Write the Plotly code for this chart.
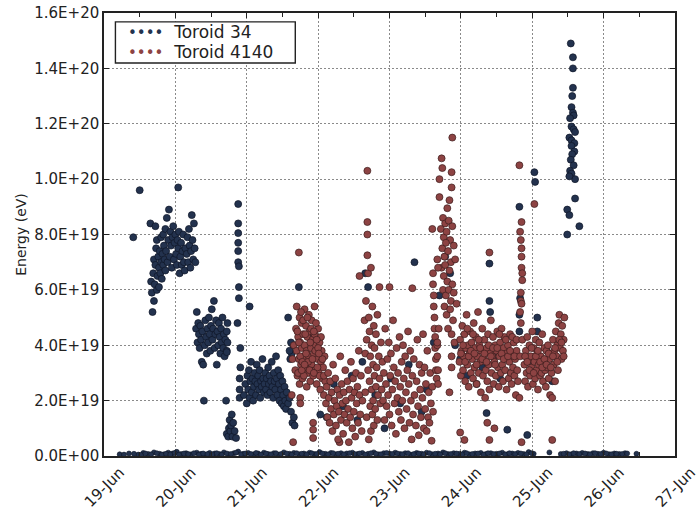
import pandas as pd
import plotly.graph_objects as go

START = pd.Timestamp("2012-06-19")

# Readings as (days after 19-Jun 00:00, energy in units of 1e19 eV)

# ---- Toroid 34 ----
T34_EARLY = [
    (0.41, 7.9), (0.50, 9.6), (1.04, 9.7),
    (0.65, 8.4), (0.66, 6.3), (0.67, 5.9), (0.68, 5.2), (0.69, 6.6), (0.70, 7.1), (0.70, 5.6),
    (0.71, 6.2), (0.72, 8.3), (0.72, 6.9), (0.73, 7.5), (0.74, 6.0), (0.74, 7.8), (0.75, 6.5),
    (0.76, 7.2), (0.77, 6.8), (0.77, 6.1), (0.78, 7.4), (0.79, 6.6), (0.80, 7.0), (0.80, 7.9),
    (0.81, 6.4), (0.82, 7.3), (0.83, 8.0), (0.83, 6.9), (0.84, 7.6), (0.85, 7.1), (0.86, 8.2),
    (0.86, 6.7), (0.87, 7.4), (0.88, 8.6), (0.89, 7.0), (0.90, 7.8), (0.91, 8.9), (0.92, 7.2),
    (0.93, 8.1), (0.94, 7.6), (0.95, 6.8), (0.96, 7.9), (0.97, 8.3), (0.98, 7.1), (0.99, 7.7),
    (1.00, 8.0), (1.01, 7.3), (1.02, 6.9), (1.03, 7.8), (1.04, 7.5), (1.05, 8.1), (1.06, 6.6),
    (1.07, 7.2), (1.08, 7.7), (1.09, 6.9), (1.10, 7.4), (1.11, 8.0), (1.12, 7.0), (1.13, 6.7),
    (1.14, 7.5), (1.16, 7.3), (1.17, 7.9), (1.18, 7.0), (1.19, 8.2), (1.20, 7.6), (1.21, 6.8),
    (1.22, 7.4), (1.23, 8.7), (1.24, 7.8), (1.25, 7.1), (1.26, 8.4), (1.27, 7.5), (1.28, 7.0),
]
T34_20JUN = [
    (1.29, 4.6), (1.30, 5.2), (1.31, 4.1), (1.32, 4.8), (1.33, 4.4), (1.34, 3.9), (1.35, 4.7),
    (1.36, 4.2), (1.37, 3.4), (1.38, 4.5), (1.39, 3.3), (1.40, 2.0), (1.41, 4.0), (1.42, 4.9),
    (1.43, 4.3), (1.44, 3.7), (1.45, 4.6), (1.46, 4.1), (1.47, 5.0), (1.48, 4.4), (1.49, 3.8),
    (1.50, 4.7), (1.51, 5.3), (1.52, 4.2), (1.53, 4.6), (1.54, 5.6), (1.55, 3.9), (1.56, 4.4),
    (1.57, 4.9), (1.58, 3.3), (1.59, 4.5), (1.60, 4.0), (1.61, 4.8), (1.62, 4.3), (1.63, 3.7),
    (1.64, 4.6), (1.65, 4.1), (1.66, 5.0), (1.67, 3.9), (1.68, 4.4), (1.69, 3.6), (1.70, 4.2),
    (1.71, 2.0), (1.72, 3.8), (1.73, 4.1),
    (1.72, 0.8), (1.74, 0.7), (1.75, 1.0), (1.76, 1.3), (1.77, 0.9), (1.78, 1.1), (1.79, 1.5),
    (1.80, 0.7), (1.81, 1.2), (1.83, 0.9), (1.85, 0.65),
    (1.88, 9.1), (1.88, 8.4), (1.88, 8.05), (1.88, 7.7), (1.88, 7.4), (1.88, 7.0), (1.89, 6.85),
    (1.89, 6.1), (1.89, 5.7), (1.87, 4.8), (1.91, 3.9), (1.91, 3.2), (1.90, 2.8), (1.90, 2.4),
    (1.90, 2.1), (1.72, 4.5), (1.72, 3.75), (1.73, 4.8), (2.04, 5.4),
]
T34_21JUN = [
    (1.96, 2.2), (1.98, 2.6), (2.00, 1.9), (2.01, 2.9), (2.02, 2.4), (2.03, 3.1), (2.04, 2.1),
    (2.05, 2.7), (2.06, 3.4), (2.07, 2.3), (2.08, 2.8), (2.09, 2.0), (2.10, 2.5), (2.11, 3.0),
    (2.12, 2.7), (2.13, 2.2), (2.14, 3.3), (2.15, 2.6), (2.16, 2.9), (2.17, 2.4), (2.18, 3.1),
    (2.19, 2.1), (2.20, 2.7), (2.21, 2.5), (2.22, 3.5), (2.23, 2.8), (2.24, 2.3), (2.25, 2.6),
    (2.26, 3.0), (2.27, 2.4), (2.28, 2.8), (2.29, 2.2), (2.30, 3.2), (2.31, 2.6), (2.32, 2.9),
    (2.33, 2.3), (2.34, 2.7), (2.35, 3.4), (2.36, 2.5), (2.37, 2.1), (2.38, 3.0), (2.39, 2.7),
    (2.40, 2.4), (2.41, 3.6), (2.42, 2.8), (2.43, 2.2), (2.44, 3.1), (2.45, 2.6), (2.46, 2.0),
    (2.47, 2.9), (2.48, 2.4), (2.49, 1.9), (2.50, 2.7), (2.51, 2.2), (2.52, 1.8), (2.53, 2.5),
    (2.54, 2.0), (2.55, 1.7), (2.56, 2.3), (2.58, 1.9), (2.60, 2.1), (2.62, 1.6), (2.58, 5.0),
    (2.63, 3.7), (2.65, 4.0), (2.64, 1.2), (2.67, 1.1), (2.66, 1.4), (2.73, 6.1), (2.62, 4.1),
    (2.60, 3.8), (2.61, 3.5),
]
T34_LATER = [
    (2.92, 3.1), (2.88, 4.4), (3.03, 1.5), (3.12, 1.4), (3.22, 2.6), (3.35, 1.8), (3.47, 2.9),
    (3.55, 1.3), (3.62, 3.4), (3.70, 6.1), (3.66, 6.6), (3.80, 2.2), (3.93, 1.0), (4.02, 2.8),
    (4.15, 1.9), (4.27, 3.3), (4.35, 7.0), (4.45, 1.6), (4.52, 2.4), (4.62, 4.1), (4.70, 5.8),
    (4.78, 7.2), (4.85, 6.6), (4.92, 4.0), (4.99, 3.5), (5.08, 2.9), (5.15, 3.8), (5.22, 2.6),
    (5.30, 3.2), (5.36, 1.55), (5.40, 6.95), (5.40, 5.6), (5.41, 5.2), (5.48, 3.6), (5.55, 2.8),
    (5.62, 4.2), (5.70, 3.0), (5.82, 9.0), (5.83, 5.7), (5.82, 5.1), (5.82, 4.5), (5.93, 0.76),
    (5.65, 0.95), (6.07, 5.0), (6.07, 4.5), (6.00, 3.4), (6.12, 3.0), (6.20, 3.9), (6.28, 2.7),
    (6.35, 3.5), (6.03, 10.25), (6.04, 9.9),
]
T34_25JUN = [
    (6.54, 14.9), (6.57, 14.4), (6.57, 14.0), (6.57, 13.3), (6.56, 13.0), (6.55, 12.6),
    (6.57, 12.4), (6.58, 12.3), (6.53, 12.2), (6.55, 11.9), (6.58, 11.8), (6.60, 11.7),
    (6.52, 11.5), (6.55, 11.4), (6.59, 11.3), (6.55, 11.2), (6.59, 11.0), (6.56, 10.9),
    (6.54, 10.7), (6.58, 10.5), (6.53, 10.3), (6.55, 10.2), (6.60, 10.0), (6.52, 10.1),
    (6.60, 9.3), (6.49, 8.9), (6.52, 8.7), (6.66, 8.3), (6.49, 8.0),
]
# Near-zero Toroid 34 readings along the whole run
T34_BASELINE = [
    (0.22, 0.06), (0.35, 0.09), (0.48, 0.05), (0.55, 0.11), (0.62, 0.07), (0.70, 0.13),
    (0.78, 0.08), (0.84, 0.06), (0.90, 0.12), (0.96, 0.09), (1.02, 0.15), (1.08, 0.07),
    (1.15, 0.10), (1.22, 0.06), (1.30, 0.12), (1.36, 0.08), (1.42, 0.05), (1.48, 0.11),
    (1.55, 0.09), (1.62, 0.07), (1.68, 0.13), (1.75, 0.06), (1.82, 0.10), (1.88, 0.16),
    (1.95, 0.08), (2.02, 0.11), (2.10, 0.06), (2.16, 0.09), (2.24, 0.12), (2.30, 0.07),
    (2.38, 0.10), (2.45, 0.05), (2.52, 0.13), (2.60, 0.08), (2.66, 0.11), (2.74, 0.06),
    (2.80, 0.09), (2.88, 0.12), (2.95, 0.07), (3.02, 0.14), (3.10, 0.08), (3.18, 0.11),
    (3.25, 0.06), (3.32, 0.10), (3.40, 0.09), (3.48, 0.12), (3.55, 0.07), (3.62, 0.11),
    (3.70, 0.08), (3.78, 0.13), (3.85, 0.06), (3.92, 0.10), (4.00, 0.09), (4.08, 0.12),
    (4.15, 0.07), (4.22, 0.10), (4.30, 0.05), (4.38, 0.11), (4.45, 0.08), (4.52, 0.12),
    (4.60, 0.06), (4.68, 0.09), (4.75, 0.13), (4.82, 0.07), (4.90, 0.10), (4.98, 0.08),
    (5.05, 0.12), (5.12, 0.06), (5.20, 0.09), (5.28, 0.11), (5.35, 0.07), (5.42, 0.10),
    (5.50, 0.08), (5.58, 0.12), (5.65, 0.06), (5.72, 0.09), (5.80, 0.11), (5.88, 0.07),
    (5.95, 0.14), (6.02, 0.08), (6.24, 0.13), (6.40, 0.07), (6.48, 0.10), (6.55, 0.06),
    (6.62, 0.09), (6.70, 0.11), (6.78, 0.07), (6.85, 0.10), (6.92, 0.08), (7.00, 0.12),
    (7.08, 0.06), (7.15, 0.09), (7.22, 0.07), (7.30, 0.10), (7.46, 0.08),
    (0.28, 0.05), (0.42, 0.08), (0.52, 0.04), (0.58, 0.09), (0.66, 0.06), (0.74, 0.10),
    (0.81, 0.05), (0.87, 0.08), (0.93, 0.06), (0.99, 0.11), (1.05, 0.05), (1.12, 0.09),
    (1.18, 0.07), (1.26, 0.10), (1.33, 0.05), (1.39, 0.09), (1.45, 0.07), (1.52, 0.06),
    (1.58, 0.10), (1.65, 0.05), (1.72, 0.09), (1.78, 0.07), (1.85, 0.12), (1.92, 0.06),
    (1.98, 0.09), (2.06, 0.07), (2.13, 0.11), (2.20, 0.05), (2.27, 0.09), (2.34, 0.06),
    (2.41, 0.10), (2.48, 0.07), (2.56, 0.09), (2.63, 0.05), (2.70, 0.10), (2.77, 0.08),
    (2.84, 0.06), (2.91, 0.10), (2.98, 0.07), (3.06, 0.09), (3.14, 0.06), (3.21, 0.10),
    (3.28, 0.08), (3.36, 0.06), (3.44, 0.10), (3.51, 0.07), (3.58, 0.09), (3.66, 0.05),
    (3.74, 0.10), (3.81, 0.08), (3.88, 0.06), (3.96, 0.11), (4.04, 0.07), (4.11, 0.09),
    (4.18, 0.06), (4.26, 0.10), (4.34, 0.07), (4.41, 0.09), (4.48, 0.06), (4.56, 0.10),
    (4.64, 0.08), (4.71, 0.06), (4.78, 0.10), (4.86, 0.07), (4.94, 0.09), (5.02, 0.06),
    (5.08, 0.10), (5.16, 0.07), (5.24, 0.09), (5.32, 0.05), (5.38, 0.10), (5.46, 0.07),
    (5.54, 0.09), (5.62, 0.06), (5.68, 0.10), (5.76, 0.07), (5.84, 0.09), (5.92, 0.06),
    (5.99, 0.10), (6.44, 0.08), (6.52, 0.06), (6.58, 0.10), (6.66, 0.07), (6.74, 0.09),
    (6.81, 0.06), (6.88, 0.10), (6.96, 0.07), (7.04, 0.09), (7.11, 0.06), (7.18, 0.08),
    (7.26, 0.07), (7.33, 0.09),
]

# ---- Toroid 4140 ----
T4140_22JUN = [
    (2.63, 2.2), (2.64, 3.5), (2.66, 4.0), (2.68, 3.1), (2.69, 4.6), (2.70, 5.4), (2.70, 3.8),
    (2.71, 2.9), (2.72, 4.3), (2.73, 3.5), (2.74, 5.0), (2.74, 2.6), (2.75, 4.1), (2.76, 3.3),
    (2.77, 4.8), (2.77, 3.9), (2.78, 2.8), (2.79, 4.4), (2.80, 3.6), (2.81, 5.3), (2.81, 4.0),
    (2.82, 3.2), (2.83, 4.7), (2.84, 2.5), (2.84, 3.8), (2.85, 4.3), (2.86, 3.0), (2.87, 5.1),
    (2.87, 3.6), (2.88, 4.5), (2.89, 2.7), (2.90, 3.9), (2.91, 4.9), (2.91, 3.3), (2.92, 4.2),
    (2.93, 2.9), (2.94, 3.7), (2.95, 5.4), (2.95, 4.4), (2.96, 3.1), (2.97, 4.0), (2.98, 2.6),
    (2.99, 3.5), (3.00, 4.6), (3.01, 3.0), (3.02, 4.1), (3.03, 2.4), (3.04, 3.4), (3.05, 3.8),
    (3.06, 2.8), (3.07, 3.2), (3.08, 2.2), (3.09, 3.6), (3.10, 2.7),
    (2.71, 4.5), (2.72, 3.0), (2.73, 4.1), (2.75, 3.6), (2.76, 5.2), (2.78, 3.4), (2.79, 4.9),
    (2.80, 2.9), (2.82, 4.4), (2.83, 3.7), (2.85, 5.0), (2.86, 3.4), (2.88, 3.1), (2.89, 4.1),
    (2.90, 4.6), (2.92, 3.5), (2.94, 4.5), (2.96, 3.8), (2.97, 4.8), (2.99, 3.2), (3.00, 3.9),
    (3.02, 2.9), (3.04, 4.3), (3.06, 3.5), (3.08, 2.9), (2.77, 3.1), (2.81, 3.3), (2.94, 3.0),
    (2.98, 4.2), (3.01, 3.7),
    (2.73, 7.35), (2.65, 0.5), (2.93, 1.2), (2.93, 0.95), (2.93, 0.65), (2.75, 2.1), (2.75, 1.9),
    (3.30, 0.5),
]
T4140_22JUN_LATE = [
    (3.11, 1.9), (3.12, 2.5), (3.13, 1.4), (3.14, 3.0), (3.15, 2.1), (3.16, 1.2), (3.17, 2.7),
    (3.18, 1.7), (3.19, 2.3), (3.20, 0.9), (3.21, 3.3), (3.22, 1.5), (3.23, 2.0), (3.24, 2.8),
    (3.25, 1.1), (3.26, 1.8), (3.27, 2.4), (3.28, 0.6), (3.29, 1.6), (3.30, 2.2), (3.31, 3.6),
    (3.32, 1.3), (3.33, 2.6), (3.34, 1.9), (3.35, 0.8), (3.36, 2.3), (3.37, 1.5), (3.38, 3.1),
    (3.39, 2.0), (3.40, 1.2), (3.41, 2.7), (3.42, 1.7), (3.43, 0.5), (3.44, 2.4), (3.45, 1.4),
    (3.46, 3.4), (3.47, 2.1), (3.48, 1.0), (3.49, 2.8), (3.50, 1.6), (3.51, 2.3), (3.52, 0.7),
    (3.53, 3.0), (3.54, 1.9), (3.55, 2.5), (3.56, 1.2), (3.57, 3.8), (3.58, 2.2), (3.59, 1.5),
    (3.60, 2.9), (3.61, 0.9), (3.62, 2.0),
    (3.65, 4.9), (3.66, 3.7), (3.66, 2.3), (3.67, 5.6), (3.68, 1.4), (3.68, 4.2), (3.69, 10.3),
    (3.69, 8.45), (3.69, 8.0), (3.69, 7.25), (3.70, 6.6), (3.70, 3.1), (3.71, 5.0), (3.71, 0.6),
    (3.72, 2.7), (3.72, 4.5), (3.73, 1.8), (3.73, 3.6), (3.74, 6.8), (3.74, 0.9), (3.75, 2.4),
    (3.75, 4.0), (3.76, 5.4), (3.76, 1.5), (3.77, 3.3), (3.77, 2.0), (3.78, 4.7), (3.78, 1.1),
    (3.79, 2.9), (3.79, 3.9), (3.80, 1.7), (3.81, 4.4), (3.81, 2.5), (3.82, 3.2), (3.83, 5.1),
    (3.83, 1.3), (3.84, 2.2), (3.85, 3.6), (3.86, 6.1), (3.86, 2.8), (3.87, 1.9), (3.88, 4.1),
    (3.89, 2.4), (3.90, 3.4), (3.58, 6.5), (4.00, 6.1),
]
T4140_23JUN = [
    (3.91, 2.0), (3.92, 3.0), (3.93, 1.3), (3.94, 4.6), (3.95, 2.6), (3.96, 1.8), (3.97, 3.5),
    (3.98, 2.2), (3.99, 4.1), (4.00, 1.5), (4.01, 2.9), (4.02, 3.7), (4.03, 1.1), (4.04, 2.4),
    (4.05, 4.9), (4.06, 3.2), (4.07, 1.9), (4.08, 2.7), (4.09, 0.8), (4.10, 3.9), (4.11, 2.1),
    (4.12, 3.0), (4.13, 1.6), (4.14, 4.3), (4.15, 2.5), (4.16, 1.3), (4.17, 3.4), (4.18, 2.0),
    (4.19, 4.0), (4.20, 2.8), (4.21, 1.0), (4.22, 3.6), (4.23, 2.3), (4.24, 1.7), (4.25, 3.1),
    (4.26, 4.5), (4.27, 2.6), (4.28, 1.2), (4.29, 3.8), (4.30, 2.0), (4.31, 0.6), (4.32, 2.9),
    (4.33, 1.5), (4.34, 3.5), (4.35, 2.2), (4.32, 6.06), (4.37, 1.1), (4.38, 2.7), (4.39, 4.2),
    (4.40, 1.8), (4.41, 0.75), (4.42, 3.3), (4.43, 2.4), (4.44, 1.4), (4.45, 3.0),
    (4.46, 2.1), (4.47, 4.4), (4.48, 1.0), (4.49, 3.2), (4.50, 1.7), (4.51, 2.6), (4.52, 0.9),
    (4.53, 3.8), (4.54, 1.4), (4.55, 2.3), (4.56, 1.2), (4.57, 3.0), (4.58, 1.9), (4.59, 0.55),
    (4.60, 2.5), (4.61, 1.6),
]
T4140_23JUN_PEAK = [
    (4.88, 11.5), (4.73, 10.75), (4.74, 10.4), (4.87, 10.25), (4.70, 10.0), (4.87, 9.7),
    (4.70, 9.35), (4.84, 9.24), (4.81, 8.95), (4.75, 8.6), (4.78, 8.4), (4.83, 8.5), (4.72, 8.2),
    (4.76, 7.9), (4.80, 8.1), (4.85, 7.8), (4.88, 8.3), (4.74, 7.5), (4.77, 7.2), (4.79, 7.7),
    (4.82, 7.4), (4.86, 7.0), (4.90, 7.6), (4.73, 6.8), (4.76, 6.5), (4.78, 6.9), (4.81, 6.3),
    (4.84, 6.7), (4.88, 6.2), (4.92, 7.1), (4.75, 6.0), (4.79, 5.8), (4.83, 6.0), (4.86, 5.6),
    (4.90, 5.9), (4.77, 5.4), (4.80, 5.1), (4.85, 5.3), (4.89, 4.9), (4.94, 5.5), (4.82, 4.6),
    (4.87, 4.4), (4.91, 4.1),
    (4.60, 8.2), (4.61, 6.6), (4.61, 6.2), (4.62, 5.8), (4.62, 5.4), (4.63, 5.0), (4.63, 4.6),
    (4.64, 4.3), (4.64, 3.9), (4.65, 3.5), (4.65, 3.1), (4.66, 2.8), (4.67, 7.1), (4.68, 6.8),
    (4.67, 4.0), (4.69, 4.6), (4.67, 4.1), (4.67, 3.6), (4.68, 3.1), (4.68, 2.6), (4.87, 3.6),
    (4.87, 3.2), (4.84, 2.3),
]
T4140_24JUN = [
    (4.98, 3.4), (4.99, 4.2), (5.00, 2.9), (5.01, 3.8), (5.02, 4.7), (5.03, 3.1), (5.04, 3.6),
    (5.05, 4.4), (5.06, 2.7), (5.07, 3.9), (5.08, 5.1), (5.09, 3.3), (5.10, 4.0), (5.11, 2.5),
    (5.12, 3.7), (5.13, 4.5), (5.14, 3.0), (5.15, 4.1), (5.16, 3.5), (5.17, 2.8), (5.18, 4.8),
    (5.19, 3.2), (5.20, 3.9), (5.21, 4.3), (5.22, 2.6), (5.23, 3.6), (5.24, 5.2), (5.25, 3.0),
    (5.26, 4.0), (5.27, 3.4), (5.28, 2.3), (5.29, 3.8), (5.30, 4.6), (5.31, 2.9), (5.32, 3.5),
    (5.33, 4.2), (5.34, 2.1), (5.35, 3.1), (5.36, 3.9), (5.37, 2.7), (5.38, 4.4), (5.39, 3.3),
    (5.40, 2.4), (5.41, 3.7), (5.42, 4.9), (5.43, 3.0), (5.44, 3.6), (5.45, 4.3), (5.46, 2.6),
    (5.47, 3.4), (5.48, 4.0), (5.49, 2.9), (5.50, 3.8), (5.51, 4.5), (5.52, 3.2), (5.53, 2.5),
    (5.54, 3.6), (5.55, 4.1), (5.56, 3.0), (5.57, 4.6), (5.58, 3.3), (5.59, 2.7), (5.60, 3.9),
    (5.61, 4.3), (5.62, 3.1), (5.63, 3.7), (5.64, 2.4), (5.65, 3.5), (5.66, 4.0), (5.67, 2.8),
    (5.68, 3.4), (5.69, 4.4), (5.70, 3.0), (5.71, 2.6), (5.72, 3.7), (5.73, 3.2), (5.74, 4.1),
    (5.75, 2.9), (5.76, 3.5), (5.77, 2.2), (5.78, 3.8), (5.79, 3.1), (5.80, 2.7),
    (5.00, 3.7), (5.03, 4.0), (5.06, 3.4), (5.09, 4.6), (5.11, 3.6), (5.14, 3.8), (5.17, 4.4),
    (5.19, 3.7), (5.22, 3.3), (5.25, 4.2), (5.27, 3.9), (5.30, 3.5), (5.33, 3.7), (5.36, 3.4),
    (5.39, 4.0), (5.42, 3.6), (5.45, 3.9), (5.48, 3.3), (5.51, 3.9), (5.54, 4.4), (5.57, 3.7),
    (5.60, 3.5), (5.63, 4.2), (5.66, 3.6), (5.69, 3.8), (5.72, 4.3), (5.75, 3.6), (5.78, 4.2),
    (4.99, 0.85), (5.05, 0.58), (5.37, 1.2), (5.40, 0.58), (5.47, 1.0), (5.40, 7.35),
    (5.82, 10.5),
]
T4140_25JUN = [
    (5.85, 8.45), (5.83, 8.1), (5.84, 7.8), (5.85, 7.5), (5.85, 7.2), (5.85, 6.8), (5.86, 6.6),
    (5.86, 6.35), (5.84, 5.9), (5.84, 5.6), (5.85, 5.5), (5.84, 4.8), (5.86, 4.2), (5.83, 3.6),
    (5.82, 2.1), (5.85, 0.5), (6.03, 9.1), (5.83, 5.2),
    (5.89, 3.3), (5.90, 2.7), (5.91, 3.8), (5.92, 3.0), (5.93, 4.3), (5.94, 2.5), (5.95, 3.5),
    (5.96, 4.0), (5.97, 2.9), (5.98, 3.6), (5.99, 3.2), (6.00, 4.5), (6.01, 2.6), (6.02, 3.9),
    (6.03, 3.4), (6.04, 2.8), (6.05, 4.2), (6.06, 3.1), (6.07, 3.7), (6.08, 2.4), (6.09, 3.3),
    (6.10, 4.1), (6.11, 2.9), (6.12, 3.6), (6.13, 3.0), (6.14, 4.4), (6.15, 2.7), (6.16, 3.4),
    (6.17, 3.9), (6.18, 3.1), (6.19, 2.5), (6.20, 3.8), (6.21, 3.2), (6.22, 4.0), (6.23, 2.8),
    (6.24, 3.5), (6.25, 2.2), (6.26, 3.7), (6.27, 3.0), (6.28, 2.1), (6.29, 4.2), (6.30, 3.3),
    (6.31, 3.8), (6.32, 2.7), (6.33, 4.5), (6.34, 3.6), (6.35, 4.0), (6.36, 3.1), (6.37, 4.8),
    (6.38, 5.1), (6.39, 3.9), (6.40, 4.4), (6.41, 3.5), (6.42, 4.7), (6.43, 3.8), (6.44, 4.2),
    (6.45, 5.0),
    (5.90, 3.6), (5.93, 3.4), (5.96, 3.1), (5.99, 3.9), (6.02, 3.0), (6.05, 3.6), (6.08, 3.8),
    (6.11, 3.4), (6.14, 3.2), (6.17, 3.5), (6.20, 3.3), (6.23, 3.7), (6.26, 3.2), (6.29, 3.6),
    (6.32, 3.9), (6.35, 3.4), (6.38, 4.2), (6.41, 4.1), (6.44, 3.6),
    (6.28, 0.58),
]

# Axis ticks
X_TICK_DAYS = [0, 1, 2, 3, 4, 5, 6, 7, 8]
X_TICK_TEXT = ["19-Jun", "20-Jun", "21-Jun", "22-Jun", "23-Jun",
               "24-Jun", "25-Jun", "26-Jun", "27-Jun"]
Y_TICK_VALUES = [0, 2e19, 4e19, 6e19, 8e19, 1e20, 1.2e20, 1.4e20, 1.6e20]
Y_TICK_TEXT = ["0.0E+00", "2.0E+19", "4.0E+19", "6.0E+19", "8.0E+19",
               "1.0E+20", "1.2E+20", "1.4E+20", "1.6E+20"]
SERIES_NAMES = ["Toroid 34", "Toroid 4140"]

NAVY, NAVY_EDGE = "#23324e", "#0e1526"
BRICK, BRICK_EDGE = "#8d4343", "#3b1c1c"
INK = "#222222"
GRID = "#8a8a8a"


def to_xy(*groups):
    xs, ys = [], []
    for group in groups:
        for day, energy in group:
            xs.append(START + pd.Timedelta(days=day))
            ys.append(energy * 1e19)
    return xs, ys


x34, y34 = to_xy(T34_EARLY, T34_20JUN, T34_21JUN, T34_LATER, T34_25JUN)
x34_base, y34_base = to_xy(T34_BASELINE)
x4140, y4140 = to_xy(T4140_22JUN, T4140_22JUN_LATE, T4140_23JUN, T4140_23JUN_PEAK,
                     T4140_24JUN, T4140_25JUN)

fig = go.Figure()
fig.add_trace(go.Scatter(
    x=x34_base, y=y34_base, mode="markers", name=SERIES_NAMES[0], showlegend=False,
    marker=dict(size=5, color=NAVY, line=dict(color=NAVY_EDGE, width=0.6)),
))
fig.add_trace(go.Scatter(
    x=x34, y=y34, mode="markers", name=SERIES_NAMES[0], showlegend=False,
    marker=dict(size=7, color=NAVY, line=dict(color=NAVY_EDGE, width=0.7)),
))
fig.add_trace(go.Scatter(
    x=x4140, y=y4140, mode="markers", name=SERIES_NAMES[1], showlegend=False,
    marker=dict(size=7, color=BRICK, line=dict(color=BRICK_EDGE, width=0.7)),
))

# Legend box: a framed panel with a row of dots before each series name
fig.add_shape(type="rect", xref="paper", yref="paper",
              x0=0.020, x1=0.335, y0=0.887, y1=0.980,
              fillcolor="white", line=dict(color=INK, width=1.4), layer="above")
for name, color, ypos in [(SERIES_NAMES[0], NAVY, 0.957), (SERIES_NAMES[1], BRICK, 0.912)]:
    fig.add_annotation(
        xref="paper", yref="paper", x=0.039, y=ypos, xanchor="left", yanchor="middle",
        showarrow=False, align="left",
        text=(f"<span style='color:{color};font-size:15px'>\u2022\u2022\u2022\u2022</span>"
              f"\u00a0\u00a0{name}"),
        font=dict(size=17, color=INK),
    )

x_ticks = [START + pd.Timedelta(days=d) for d in X_TICK_DAYS]

fig.update_layout(
    width=699, height=514,
    margin=dict(l=104, r=24, t=13, b=58),
    paper_bgcolor="white", plot_bgcolor="white",
    font=dict(family="DejaVu Sans", size=15, color=INK),
    showlegend=False,
)
fig.update_xaxes(
    type="date", range=[x_ticks[0], x_ticks[-1]], automargin=False,
    tickmode="array", tickvals=x_ticks, ticktext=X_TICK_TEXT, tickangle=-45,
    ticklabelshift=16, ticklabeloverflow="allow",
    ticks="inside", ticklen=5, tickcolor=INK, tickwidth=1,
    showline=True, linecolor=INK, linewidth=1.5, mirror="ticks",
    showgrid=True, gridcolor=GRID, griddash="1.5px,2.5px", gridwidth=1,
    zeroline=False,
    minor=dict(dtick=12 * 3600 * 1000, tick0=START, ticks="inside", ticklen=4,
               tickcolor=INK, showgrid=False),
)
fig.update_yaxes(
    range=[0, 1.6e20], automargin=False,
    tickmode="array", tickvals=Y_TICK_VALUES, ticktext=Y_TICK_TEXT,
    ticks="inside", ticklen=5, tickcolor=INK, tickwidth=1,
    showline=True, linecolor=INK, linewidth=1.5, mirror="ticks",
    showgrid=True, gridcolor=GRID, griddash="1.5px,2.5px", gridwidth=1,
    zeroline=False,
    title=dict(text="Energy (eV)", font=dict(size=14, color=INK), standoff=4),
)

fig.write_html("out.html")
